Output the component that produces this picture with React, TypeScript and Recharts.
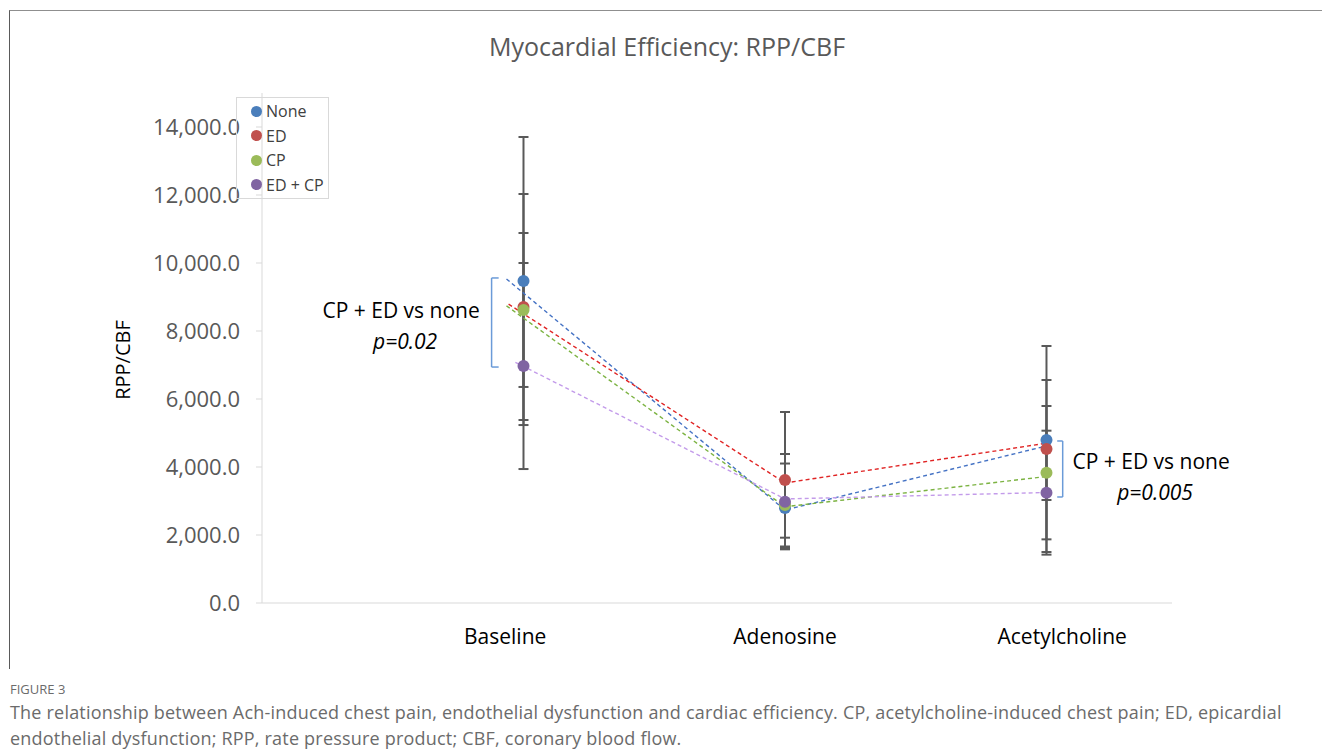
import React from "react";
import { ScatterChart, Scatter, XAxis, YAxis, ErrorBar, ReferenceLine, ReferenceDot } from "recharts";

const categories = ["Baseline", "Adenosine", "Acetylcholine"];
const categoryPos = [1, 2, 3];
// category labels sit slightly off the point positions in the figure
const labelPos = [0.93, 2, 3.06];
const yTicks = [0, 2000, 4000, 6000, 8000, 10000, 12000, 14000];

const seriesNames = ["None", "ED", "CP", "ED + CP"];
const dotColors = ["#4A7EBB", "#C0504D", "#9BBB59", "#8064A2"];
const lineColors = ["#4472C4", "#E02424", "#7CB342", "#C39BEA"];

// mean +/- error per condition
const noneMeans = [9470, 2794, 4794];
const noneErr = [4236, 873, 1765];
const edMeans = [8706, 3618, 4529];
const edErr = [3323, 2000, 3030];
const cpMeans = [8618, 2882, 3833];
const cpErr = [2264, 1220, 1961];
const edcpMeans = [6970, 2980, 3245];
const edcpErr = [3030, 1402, 1823];

// dashed connectors as drawn in the figure (start a bit left of baseline)
const noneLineX = [0.935, 2, 3];
const noneLineY = [9530, 2735, 4620];
const edLineX = [0.943, 2, 3];
const edLineY = [8790, 3530, 4700];
const cpLineX = [0.935, 2, 3];
const cpLineY = [8740, 2830, 3720];
const edcpLineX = [0.969, 2, 3];
const edcpLineY = [7080, 3060, 3250];

const groups = [
  { means: noneMeans, errs: noneErr, lx: noneLineX, ly: noneLineY },
  { means: edMeans, errs: edErr, lx: edLineX, ly: edLineY },
  { means: cpMeans, errs: cpErr, lx: cpLineX, ly: cpLineY },
  { means: edcpMeans, errs: edcpErr, lx: edcpLineX, ly: edcpLineY },
];

const toPoints = (means: number[], errs: number[]) =>
  categoryPos.map((x, i) => ({ x, y: means[i], err: errs[i] }));
const toLine = (xs: number[], ys: number[]) => xs.map((x, i) => ({ x, y: ys[i] }));

const FONT = "'Open Sans', sans-serif";
const BRACKET = "#6B9BD8";

function NoteLabel(props: any) {
  const vb = props.viewBox || {};
  const cx = (vb.x ?? 0) + (vb.width ?? 0) / 2;
  const cy = (vb.y ?? 0) + (vb.height ?? 0) / 2;
  return (
    <g fontFamily={FONT} fontSize={21} fill="#000" textAnchor="middle">
      <text x={cx} y={cy - 8}>{props.title}</text>
      <text x={cx + 4} y={cy + 23} fontStyle="italic">{props.p}</text>
    </g>
  );
}

const empty = () => <g />;

export default function App() {
  return (
    <div style={{ position: "absolute", left: 0, top: 0, width: 1322, height: 756, background: "#fff", overflow: "hidden", fontFamily: FONT }}>
      <div style={{ position: "absolute", left: 9, top: 10, width: 1313, height: 658, borderTop: "1px solid #8f8f8f", borderLeft: "1px solid #5a5a5a" }} />
      <div style={{ position: "absolute", left: 6, width: 1322, top: 29, textAlign: "center", fontSize: 25, color: "#595959" }}>
        Myocardial Efficiency: RPP/CBF
      </div>

      <div style={{ position: "absolute", left: 0, top: 0 }}>
        <ScatterChart width={1322} height={660} margin={{ top: 93, right: 150, bottom: 17, left: 142 }}>
          <XAxis
            type="number"
            dataKey="x"
            domain={[0, 3.48]}
            ticks={labelPos}
            tickFormatter={(v: number) => categories[labelPos.indexOf(v)] ?? ""}
            axisLine={{ stroke: "#d9d9d9", strokeWidth: 1 }}
            tickLine={false}
            tickSize={0}
            tickMargin={26}
            height={40}
            tick={{ fill: "#000", fontSize: 21, fontFamily: FONT }}
          />
          <YAxis
            type="number"
            dataKey="y"
            domain={[0, 15000]}
            ticks={yTicks}
            width={120}
            tickFormatter={(v: number) => v.toLocaleString("en-US", { minimumFractionDigits: 1, maximumFractionDigits: 1 })}
            axisLine={{ stroke: "#d9d9d9", strokeWidth: 1 }}
            tickLine={{ stroke: "#d9d9d9" }}
            tickSize={6}
            tickMargin={16}
            tick={{ fill: "#595959", fontSize: 22, fontFamily: FONT }}
          />

          {groups.map((g, i) => (
            <Scatter
              key={"line" + i}
              data={toLine(g.lx, g.ly)}
              fill={lineColors[i]}
              line={{ stroke: lineColors[i], strokeWidth: 1.4, strokeDasharray: "4 3" }}
              shape={empty}
              legendType="none"
              isAnimationActive={false}
            />
          ))}

          {groups.map((g, i) => (
            <Scatter
              key={"err" + i}
              data={toPoints(g.means, g.errs)}
              fill="#595959"
              shape={empty}
              legendType="none"
              isAnimationActive={false}
            >
              <ErrorBar dataKey="err" direction="y" width={5} stroke="#595959" strokeWidth={2} />
            </Scatter>
          ))}

          {groups.map((g, i) => (
            <Scatter
              key={"dot" + i}
              name={seriesNames[i]}
              data={toPoints(g.means, g.errs)}
              fill={dotColors[i]}
              shape={(p: any) => <circle cx={p.cx} cy={p.cy} r={6} fill={dotColors[i]} />}
              isAnimationActive={false}
            />
          ))}

          <ReferenceLine segment={[{ x: 0.878, y: 9560 }, { x: 0.878, y: 6940 }]} stroke={BRACKET} strokeWidth={1.5} ifOverflow="visible" />
          <ReferenceLine segment={[{ x: 0.878, y: 9560 }, { x: 0.905, y: 9560 }]} stroke={BRACKET} strokeWidth={1.5} ifOverflow="visible" />
          <ReferenceLine segment={[{ x: 0.878, y: 6940 }, { x: 0.905, y: 6940 }]} stroke={BRACKET} strokeWidth={1.5} ifOverflow="visible" />
          <ReferenceLine segment={[{ x: 3.062, y: 4765 }, { x: 3.062, y: 3118 }]} stroke={BRACKET} strokeWidth={1.5} ifOverflow="visible" />
          <ReferenceLine segment={[{ x: 3.062, y: 4765 }, { x: 3.041, y: 4765 }]} stroke={BRACKET} strokeWidth={1.5} ifOverflow="visible" />
          <ReferenceLine segment={[{ x: 3.062, y: 3118 }, { x: 3.041, y: 3118 }]} stroke={BRACKET} strokeWidth={1.5} ifOverflow="visible" />

          <ReferenceDot x={0.532} y={8160} r={0.01} fill="none" stroke="none" ifOverflow="visible"
            label={<NoteLabel title="CP + ED vs none" p="p=0.02" />} />
          <ReferenceDot x={3.4} y={3720} r={0.01} fill="none" stroke="none" ifOverflow="visible"
            label={<NoteLabel title="CP + ED vs none" p="p=0.005" />} />
        </ScatterChart>
      </div>

      <div style={{ position: "absolute", left: 236, top: 97, width: 93, height: 102, border: "1px solid #d9d9d9", boxSizing: "border-box" }}>
        {seriesNames.map((n, i) => (
          <div key={n} style={{ position: "absolute", left: 14, top: 4 + i * 24.5, height: 18, display: "flex", alignItems: "center", fontSize: 16, color: "#404040", whiteSpace: "nowrap" }}>
            <span style={{ width: 11, height: 11, borderRadius: "50%", background: dotColors[i], display: "inline-block", marginRight: 4 }} />
            {n}
          </div>
        ))}
      </div>

      <div style={{ position: "absolute", left: 122, top: 360, transform: "translate(-50%, -50%) rotate(-90deg)", fontSize: 20, color: "#000", whiteSpace: "nowrap" }}>
        RPP/CBF
      </div>

      <div style={{ position: "absolute", left: 10, top: 680, fontSize: 13, color: "#6b6b6b" }}>FIGURE 3</div>
      <div style={{ position: "absolute", left: 10, top: 699, width: 1310, fontSize: 18, letterSpacing: 0.2, lineHeight: "26px", color: "#6b6b6b" }}>
        The relationship between Ach-induced chest pain, endothelial dysfunction and cardiac efficiency. CP, acetylcholine-induced chest pain; ED, epicardial endothelial dysfunction; RPP, rate pressure product; CBF, coronary blood flow.
      </div>
    </div>
  );
}
